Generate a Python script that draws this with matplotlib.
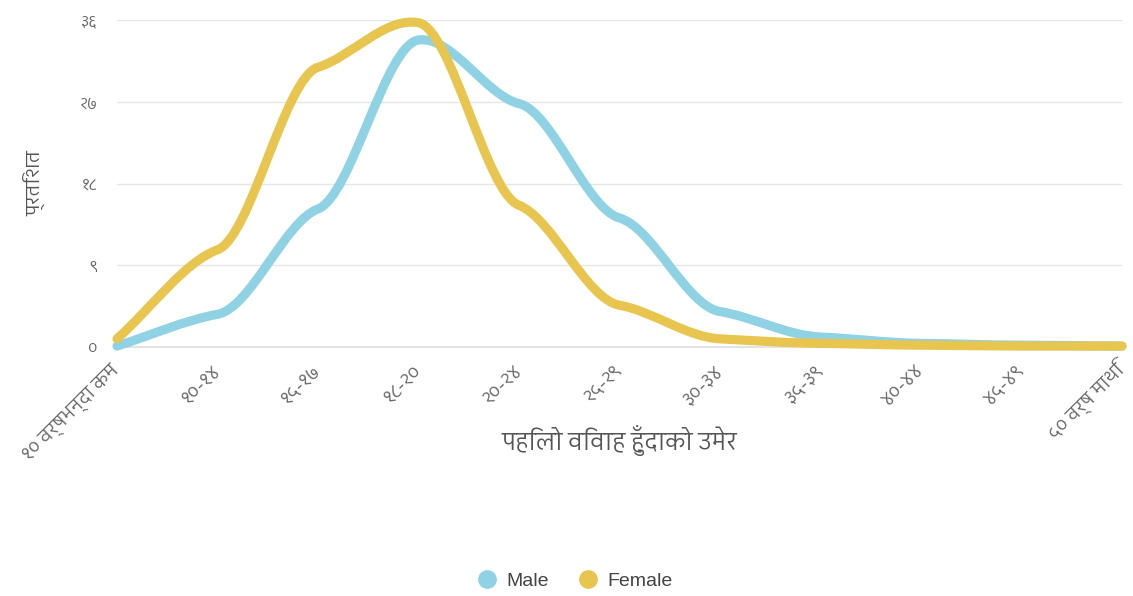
"""
Age at first marriage, by sex (Nepali labels), drawn as two smooth
spline curves in the style of the original web chart.
"""

import matplotlib
matplotlib.use("Agg")

import matplotlib.pyplot as plt
from matplotlib import font_manager
from matplotlib.ft2font import FT2Font
from matplotlib.lines import Line2D
from matplotlib.patches import PathPatch
from matplotlib.path import Path

# ── Data ──────────────────────────────────────────────────────────────────────
CATEGORIES = [
    "१० वर्षभन्दा कम", "१०-१४", "१५-१७", "१८-२०", "२०-२४", "२५-२९",
    "३०-३४", "३५-३९", "४०-४४", "४५-४९", "५० वर्ष माथि",
]
MALE = [0.1, 3.6, 15.2, 33.8, 26.8, 14.2, 3.9, 1.1, 0.4, 0.2, 0.1]
FEMALE = [0.9, 10.7, 30.8, 35.7, 15.6, 4.6, 0.9, 0.4, 0.2, 0.1, 0.1]

Y_TICKS = [0, 9, 18, 27, 36]
Y_TICK_LABELS = ["०", "९", "१८", "२७", "३६"]

X_TITLE = "पहिलो विवाह हुँदाको उमेर"
Y_TITLE = "प्रतिशत"

SERIES = [("Male", MALE, "#8ed2e4"), ("Female", FEMALE, "#e8c54f")]


# ── Fonts: pick a (preferably sans, non-mono) family with Devanagari ─────────
def _devanagari_family():
    found = []
    seen = set()
    for f in font_manager.fontManager.ttflist:
        if f.name in seen:
            continue
        seen.add(f.name)
        try:
            cmap = FT2Font(f.fname).get_charmap()
        except Exception:
            continue
        if 0x0928 in cmap and 0x0966 in cmap:
            found.append(f.name)

    def rank(name):
        n = name.lower()
        return ("mono" in n, "devanagari" not in n, "sans" not in n, n)

    found.sort(key=rank)
    return found[0] if found else None


_deva = _devanagari_family()
DEVA = ([_deva] if _deva else []) + ["DejaVu Sans"]
LATIN = ["Liberation Sans", "DejaVu Sans"]
plt.rcParams["font.family"] = DEVA


# ── Smooth curve through the points (cubic Hermite → Bezier) ─────────────────
def smooth_path(xs, ys, k=0.27):
    n = len(xs)
    slopes = []
    for i in range(n):
        if i == 0:
            m = (ys[1] - ys[0]) / (xs[1] - xs[0])
        elif i == n - 1:
            m = (ys[-1] - ys[-2]) / (xs[-1] - xs[-2])
        else:
            m = k * (ys[i + 1] - ys[i - 1]) / (xs[i + 1] - xs[i - 1])
        slopes.append(m)
    verts = [(xs[0], ys[0])]
    codes = [Path.MOVETO]
    for i in range(1, n):
        h = (xs[i] - xs[i - 1]) / 3
        verts += [(xs[i - 1] + h, ys[i - 1] + slopes[i - 1] * h),
                  (xs[i] - h, ys[i] - slopes[i] * h),
                  (xs[i], ys[i])]
        codes += [Path.CURVE4] * 3
    return Path(verts, codes)


# ── Figure ────────────────────────────────────────────────────────────────────
W, H = 1133, 596
fig = plt.figure(figsize=(W / 100, H / 100), dpi=100)
ax = fig.add_axes([117 / W, 1 - 347 / H, (1122 - 117) / W, (347 - 20) / H])

xs = list(range(len(CATEGORIES)))
for name, vals, color in SERIES:
    ax.add_patch(PathPatch(smooth_path(xs, vals), facecolor="none",
                           edgecolor=color, lw=6.6, capstyle="round",
                           joinstyle="round", clip_on=False, zorder=3))

ax.set_xlim(0, len(CATEGORIES) - 1)
ax.set_ylim(0, 36)

ax.set_yticks(Y_TICKS)
ax.set_yticklabels(Y_TICK_LABELS)
ax.grid(axis="y", color="#e6e6e6", lw=1)
ax.set_axisbelow(True)
for side in ("top", "right", "left"):
    ax.spines[side].set_visible(False)
ax.spines["bottom"].set_color("#e3e3e3")
ax.spines["bottom"].set_linewidth(1.5)
ax.tick_params(axis="y", length=0, pad=14, labelsize=11.5, labelcolor="#666666")

ax.set_xticks(xs)
ax.set_xticklabels(CATEGORIES, rotation=45, ha="right", va="center",
                   rotation_mode="anchor", fontsize=13.5, color="#666666")
ax.tick_params(axis="x", length=0, pad=15)

ax.set_ylabel(Y_TITLE, fontsize=14, color="#555555")
ax.yaxis.set_label_coords((46 - 117) / 1005, 0.5)
fig.text(0.5 * (117 + 1122) / W, 1 - 440 / H, X_TITLE, ha="center",
         va="center", fontsize=17, color="#555555")

handles = [Line2D([], [], ls="none", marker="o", ms=12.5, color=c,
                  label=n) for n, _, c in SERIES]
fig.legend(handles=handles, loc="center", bbox_to_anchor=(570 / W, 1 - 581 / H),
           ncol=2, frameon=False, handletextpad=0.0, columnspacing=1.0,
           labelcolor="#444444",
           prop=font_manager.FontProperties(family=LATIN, size=14))

fig.savefig("out.png", dpi=100)
